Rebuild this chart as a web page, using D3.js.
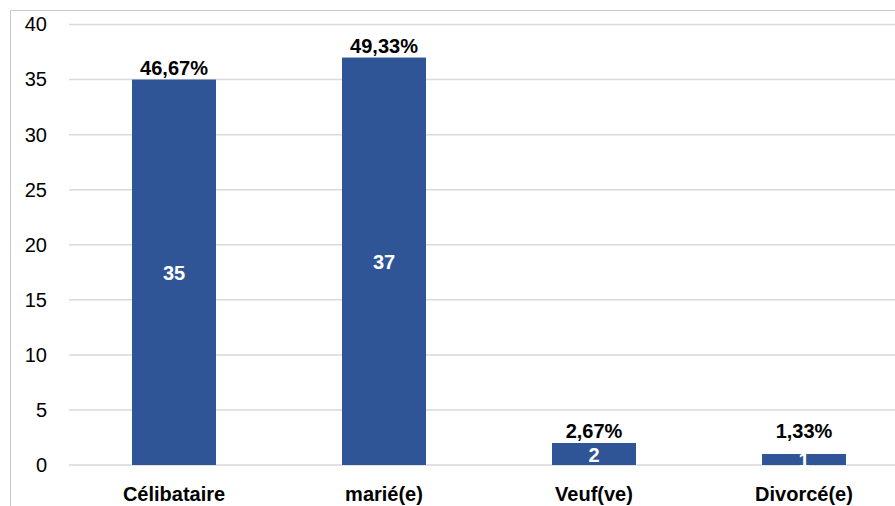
<!DOCTYPE html>
<html>
<head>
<meta charset="utf-8">
<script src="https://cdn.jsdelivr.net/npm/d3@7/dist/d3.min.js"></script>
<style>
  html, body { margin: 0; padding: 0; background: #fff; }
  svg { display: block; }
  text { font-family: "Liberation Sans", Arial, sans-serif; }
</style>
</head>
<body>
<div id="chart"></div>
<script>
// Situation matrimoniale : effectifs et pourcentages
const categories = ["Célibataire", "marié(e)", "Veuf(ve)", "Divorcé(e)"];
const counts = [35, 37, 2, 1];
const percentLabels = ["46,67%", "49,33%", "2,67%", "1,33%"];
const yTicks = [0, 5, 10, 15, 20, 25, 30, 35, 40];

const W = 895, H = 506;
const margin = { left: 69, right: -14, top: 24.5, bottom: 41 };
const FONT = "'Liberation Sans', Arial, sans-serif";

const svg = d3.select("#chart").append("svg")
  .attr("width", W).attr("height", H);

// chart frame
svg.append("path")
  .attr("d", `M10.5,${H} V10.5 H${W}`)
  .attr("fill", "none")
  .attr("stroke", "#c9c9c9")
  .attr("stroke-width", 1);

const x = d3.scaleBand()
  .domain(categories)
  .range([margin.left, W - margin.right])
  .paddingInner(0.6)
  .paddingOuter(0.3);

const y = d3.scaleLinear()
  .domain([0, 40])
  .range([H - margin.bottom, margin.top]);

// horizontal gridlines
svg.append("g")
  .selectAll("line")
  .data(yTicks)
  .join("line")
  .attr("x1", margin.left)
  .attr("x2", W)
  .attr("y1", d => y(d))
  .attr("y2", d => y(d))
  .attr("stroke", "#d9d9d9")
  .attr("stroke-width", 1.5);

// y axis labels
const yAxis = d3.axisLeft(y).tickValues(yTicks).tickSize(0).tickPadding(0);
const gy = svg.append("g")
  .attr("transform", `translate(47,0)`)
  .call(yAxis);
gy.select(".domain").remove();
gy.selectAll("text")
  .attr("font-size", 20)
  .attr("fill", "#000")
  .attr("font-family", FONT);

// bars
svg.append("g")
  .selectAll("rect")
  .data(categories)
  .join("rect")
  .attr("x", d => x(d))
  .attr("width", x.bandwidth())
  .attr("y", (d, i) => y(counts[i]))
  .attr("height", (d, i) => y(0) - y(counts[i]))
  .attr("fill", "#2f5597");

// counts inside bars
svg.append("g")
  .selectAll("text")
  .data(categories)
  .join("text")
  .attr("x", d => x(d) + x.bandwidth() / 2)
  .attr("y", (d, i) => (y(counts[i]) + y(0)) / 2 + 8)
  .attr("text-anchor", "middle")
  .attr("font-size", 20)
  .attr("font-weight", "bold")
  .attr("fill", "#fff")
  .text((d, i) => counts[i]);

// percentages above bars, lifted clear of the count label on short bars
svg.append("g")
  .selectAll("text")
  .data(categories)
  .join("text")
  .attr("x", d => x(d) + x.bandwidth() / 2)
  .attr("y", (d, i) => Math.min(y(counts[i]) - 5, y(0) - 27))
  .attr("text-anchor", "middle")
  .attr("font-size", 20)
  .attr("font-weight", "bold")
  .attr("fill", "#000")
  .text((d, i) => percentLabels[i]);

// category labels
const xAxis = d3.axisBottom(x).tickSize(0).tickPadding(0);
const gx = svg.append("g")
  .attr("transform", `translate(0,${H - 19})`)
  .call(xAxis);
gx.select(".domain").remove();
gx.selectAll("text")
  .attr("font-size", 20)
  .attr("font-weight", "bold")
  .attr("fill", "#000")
  .attr("font-family", FONT);
</script>
</body>
</html>
